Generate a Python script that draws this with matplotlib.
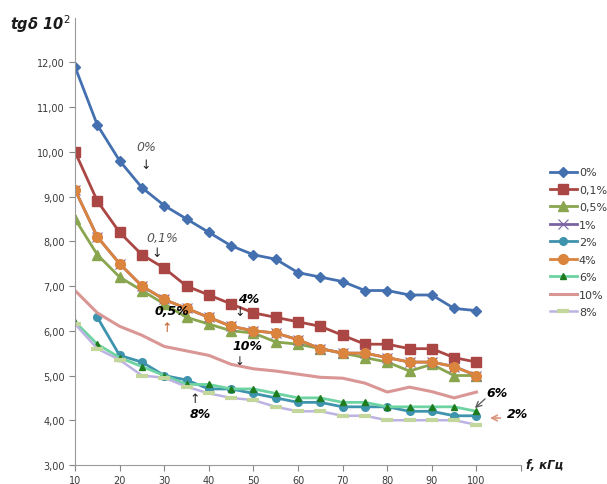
import matplotlib
matplotlib.use("Agg")
import matplotlib.pyplot as plt

# frequency, kHz
freq = [10, 15, 20, 25, 30, 35, 40, 45, 50, 55, 60, 65, 70, 75, 80, 85, 90, 95, 100]
freq_2 = freq[1:]

# tg delta * 10^2 for each concentration
s0 = [11.9, 10.6, 9.8, 9.2, 8.8, 8.5, 8.2, 7.9, 7.7, 7.6, 7.3, 7.2, 7.1, 6.9, 6.9, 6.8, 6.8, 6.5, 6.45]
s01 = [10.0, 8.9, 8.2, 7.7, 7.4, 7.0, 6.8, 6.6, 6.4, 6.3, 6.2, 6.1, 5.9, 5.7, 5.7, 5.6, 5.6, 5.4, 5.3]
s05 = [8.5, 7.7, 7.2, 6.9, 6.6, 6.3, 6.15, 6.0, 5.95, 5.75, 5.7, 5.6, 5.5, 5.4, 5.3, 5.1, 5.25, 5.0, 5.0]
s1 = [9.15, 8.1, 7.5, 7.0, 6.7, 6.5, 6.3, 6.1, 6.0, 5.95, 5.8, 5.6, 5.5, 5.5, 5.4, 5.3, 5.3, 5.2, 5.0]
s2 = [6.3, 5.45, 5.3, 5.0, 4.9, 4.7, 4.7, 4.6, 4.5, 4.4, 4.4, 4.3, 4.3, 4.3, 4.2, 4.2, 4.1, 4.1]
s4 = [9.15, 8.1, 7.5, 7.0, 6.7, 6.5, 6.3, 6.1, 6.0, 5.95, 5.8, 5.6, 5.5, 5.5, 5.4, 5.3, 5.3, 5.2, 5.0]
s6 = [6.2, 5.7, 5.4, 5.2, 5.0, 4.8, 4.8, 4.7, 4.7, 4.6, 4.5, 4.5, 4.4, 4.4, 4.3, 4.3, 4.3, 4.3, 4.2]
s10 = [6.9, 6.4, 6.1, 5.9, 5.65, 5.55, 5.45, 5.25, 5.15, 5.1, 5.03, 4.96, 4.94, 4.83, 4.63, 4.74, 4.64, 4.5, 4.63]
s8 = [6.15, 5.6, 5.35, 5.0, 4.95, 4.75, 4.6, 4.5, 4.45, 4.3, 4.2, 4.2, 4.1, 4.1, 4.0, 4.0, 4.0, 4.0, 3.9]

x_ticks = [10, 20, 30, 40, 50, 60, 70, 80, 90, 100, 110]
x_labels = ['10', '20', '30', '40', '50', '60', '70', '80', '90', '100', '']
y_ticks = [3, 4, 5, 6, 7, 8, 9, 10, 11, 12]
y_labels = ['3,00', '4,00', '5,00', '6,00', '7,00', '8,00', '9,00', '10,00', '11,00', '12,00']

fig = plt.figure(figsize=(6.07, 4.85), dpi=100)
ax = fig.add_axes([0.1236, 0.0392, 0.7348, 0.9224])

ax.plot(freq, s0, color='#4470b0', lw=2.0, marker='D', ms=5, label='0%')
ax.plot(freq, s01, color='#aa4643', lw=2.0, marker='s', ms=7, label='0,1%')
ax.plot(freq, s05, color='#89a54e', lw=2.0, marker='^', ms=7, label='0,5%')
ax.plot(freq, s1, color='#7b62a3', lw=2.0, marker='x', ms=7.5, mew=0.8, label='1%')
ax.plot(freq_2, s2, color='#3e93ad', lw=2.0, marker='o', ms=5.5, label='2%')
ax.plot(freq, s4, color='#db843d', lw=2.0, marker='o', ms=7, label='4%')
ax.plot(freq, s6, color='#6ed3a2', lw=2.0, marker='^', ms=4,
        mfc='#1e7b1e', mec='#1e7b1e', label='6%')
ax.plot(freq, s10, color='#d99694', lw=2.2, label='10%')
ax.plot(freq, s8, color='#bdb3e3', lw=1.8, marker='_', ms=8, mew=3,
        mec='#c3d69b', label='8%')

ax.set_xlim(10, 110)
ax.set_ylim(3, 13)
ax.set_xticks(x_ticks)
ax.set_xticklabels(x_labels)
ax.set_yticks(y_ticks)
ax.set_yticklabels(y_labels)
ax.tick_params(axis='both', colors='#868686', labelcolor='#3a3a3a',
               labelsize=7, length=4, direction='out')
for side in ['top', 'right']:
    ax.spines[side].set_visible(False)
for side in ['left', 'bottom']:
    ax.spines[side].set_color('#9a9a9a')

fig.text(10 / 607, 1 - 24 / 485, 'tgδ 10$^{2}$', fontsize=10.5, fontstyle='italic',
         fontweight='bold', va='center', ha='left', color='#1a1a1a')
fig.text(545 / 607, 1 - 466 / 485, 'f, кГц', fontsize=8.5, fontstyle='italic',
         fontweight='bold', va='center', ha='center', color='#1a1a1a')

# series captions
ax.text(25.9, 10.13, '0%', fontsize=9, fontstyle='italic', color='#555555', ha='center', va='center')
ax.text(25.9, 9.71, '↓', fontsize=9, color='#222222', ha='center', va='center')
ax.text(29.5, 8.09, '0,1%', fontsize=9, fontstyle='italic', color='#555555', ha='center', va='center')
ax.text(28.4, 7.76, '↓', fontsize=9, color='#222222', ha='center', va='center')
ax.text(31.7, 6.46, '0,5%', fontsize=9, fontstyle='italic', fontweight='bold', ha='center', va='center')
ax.text(30.6, 6.08, '↑', fontsize=9, color='#c0612b', ha='center', va='center')
ax.text(49.0, 6.73, '4%', fontsize=9, fontstyle='italic', fontweight='bold', ha='center', va='center')
ax.text(47.0, 6.42, '↓', fontsize=9, color='#222222', ha='center', va='center')
ax.text(48.6, 5.66, '10%', fontsize=9, fontstyle='italic', fontweight='bold', ha='center', va='center')
ax.text(47.0, 5.33, '↓', fontsize=8.5, color='#222222', ha='center', va='center')
ax.text(38.0, 4.16, '8%', fontsize=9, fontstyle='italic', fontweight='bold', ha='center', va='center')
ax.text(36.9, 4.48, '↑', fontsize=9, color='#222222', ha='center', va='center')
ax.text(104.6, 4.61, '6%', fontsize=9, fontstyle='italic', fontweight='bold', ha='center', va='center')
ax.annotate('', xy=(99.2, 4.23), xytext=(102.4, 4.52),
            arrowprops=dict(arrowstyle='->', color='#555555', lw=0.9))
ax.text(109.1, 4.16, '2%', fontsize=9, fontstyle='italic', fontweight='bold', ha='center', va='center')
ax.annotate('', xy=(102.4, 4.05), xytext=(106.0, 4.05),
            arrowprops=dict(arrowstyle='->', color='#d9967a', lw=1.2))

ax.legend(loc='upper left', bbox_to_anchor=(545.6 / 607, 1 - 164 / 485),
          bbox_transform=fig.transFigure, frameon=False, fontsize=8,
          handlelength=2.4, handletextpad=0.2, labelspacing=0.67,
          borderaxespad=0, labelcolor='#3a3a3a')

fig.savefig('out.png', dpi=100)
